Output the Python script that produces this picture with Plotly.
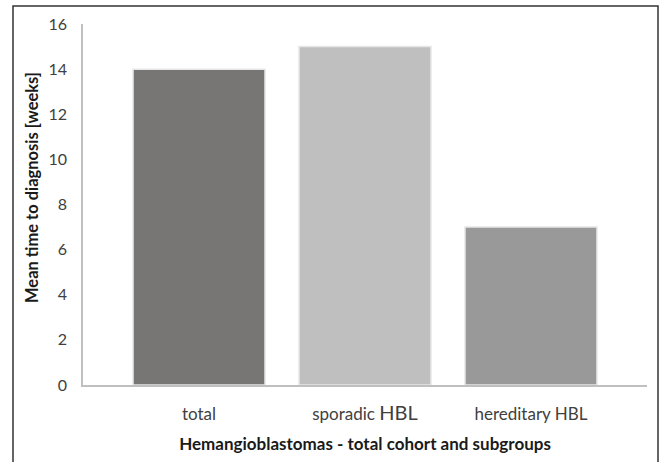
import plotly.graph_objects as go

categories = ["total", "sporadic <span style='font-size:20px'>HBL</span>", "hereditary HBL"]
values = [14, 15, 7]
colors = ["#777674", "#bfbfbf", "#999999"]
y_ticks = [0, 2, 4, 6, 8, 10, 12, 14, 16]

fig = go.Figure(go.Bar(
    x=[0, 1, 2], y=values, width=0.795,
    marker=dict(color=colors, line=dict(color="#e6e6e6", width=1.5)),
))

W, H = 659, 462
L, R, T, B = 83, 12, 24, 77
pw, ph = W - L - R, H - T - B

def px_x(p):
    return (p - L) / pw

def px_y(p):
    return (H - B - p) / ph

fig.update_layout(
    width=W, height=H,
    margin=dict(l=L, r=R, t=T, b=B, pad=0),
    paper_bgcolor="white", plot_bgcolor="white",
    showlegend=False,
    font=dict(family="Lato, 'Open Sans', sans-serif", color="#404040"),
    xaxis=dict(
        range=[-0.699, 2.699], tickmode="array", tickvals=[0, 1, 2],
        ticktext=categories, tickfont=dict(size=17, color="#404040"),
        showgrid=False, zeroline=False, showline=True, linecolor="#bfbfbf", linewidth=1.5,
        ticks="", ticklabelstandoff=13,
        title=dict(text="<b>Hemangioblastomas - total cohort and subgroups</b>",
                   font=dict(size=17, color="#1a1a1a"), standoff=15),
    ),
    yaxis=dict(
        range=[0, 16], tickmode="array", tickvals=y_ticks,
        tickfont=dict(size=16, color="#404040"),
        showgrid=False, zeroline=False, showline=True, linecolor="#bfbfbf", linewidth=1.5,
        ticks="", ticklabelstandoff=11,
    ),
    annotations=[
        dict(text="<b>Mean time to diagnosis [weeks]</b>", xref="paper", yref="paper",
             x=px_x(32), y=px_y(188), xanchor="center", yanchor="middle",
             textangle=-90, showarrow=False, font=dict(size=16.5, color="#1a1a1a")),
    ],
    shapes=[
        dict(type="rect", xref="paper", yref="paper",
             x0=px_x(13), x1=px_x(658), y0=px_y(475), y1=px_y(6),
             line=dict(color="#333333", width=1.5), fillcolor="rgba(0,0,0,0)", layer="below"),
    ],
)

fig.write_html("out.html", config={"displayModeBar": False},
               post_script="document.body.style.margin='0';document.body.style.padding='0';")
